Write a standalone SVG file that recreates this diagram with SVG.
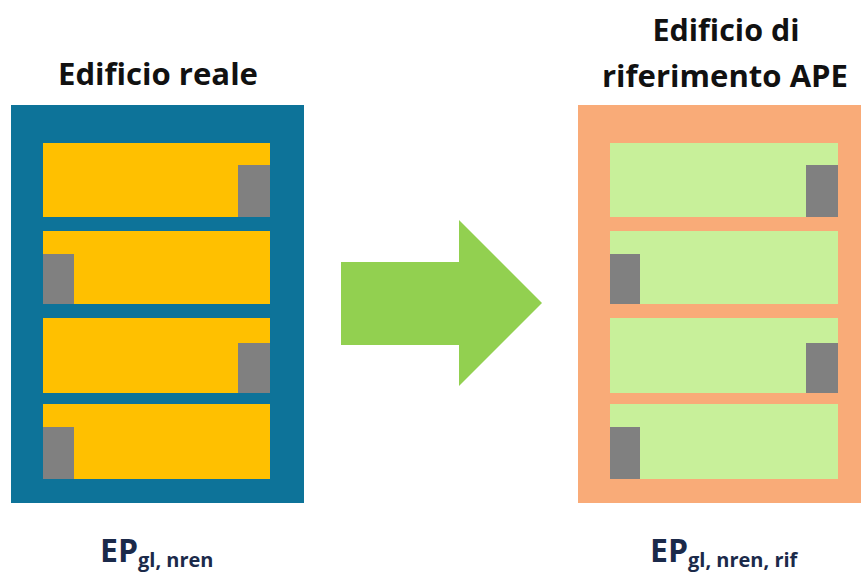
<svg xmlns="http://www.w3.org/2000/svg" width="861" height="575" viewBox="0 0 861 575">
<style>
.t{font-family:"Open Sans","Liberation Sans",sans-serif;font-weight:bold;fill:#111;font-size:31px}
.ep{font-family:"Open Sans","Liberation Sans",sans-serif;font-weight:bold;fill:#1b2a4a}
.blue{fill:#0d7399}.yel{fill:#ffc000}.gray{fill:#808080}.ora{fill:#f9ab78}.grn{fill:#c8f09a}
</style>
<rect width="861" height="575" fill="#fff"/>
<g id="real">
<text class="t" x="158" y="85" text-anchor="middle" textLength="200" lengthAdjust="spacingAndGlyphs">Edificio reale</text>
<rect class="blue" x="11" y="105" width="293" height="398"/>
<rect class="yel" x="43" y="143" width="227" height="74"/>
<rect class="gray" x="238" y="165" width="32" height="52"/>
<rect class="yel" x="43" y="231" width="227" height="73"/>
<rect class="gray" x="43" y="254" width="31" height="50"/>
<rect class="yel" x="43" y="318" width="227" height="75"/>
<rect class="gray" x="238" y="343" width="32" height="50"/>
<rect class="yel" x="43" y="404" width="227" height="75"/>
<rect class="gray" x="43" y="427" width="31" height="52"/>
<text class="ep" x="100" y="562" font-size="32">EP<tspan font-size="20" dy="5">gl, nren</tspan></text>
</g>
<g id="ref">
<text class="t" x="726" y="41" text-anchor="middle" textLength="147" lengthAdjust="spacingAndGlyphs">Edificio di</text>
<text class="t" x="725" y="87" text-anchor="middle" textLength="246" lengthAdjust="spacingAndGlyphs">riferimento APE</text>
<rect class="ora" x="578" y="105" width="283" height="398"/>
<rect class="grn" x="610" y="143" width="228" height="74"/>
<rect class="gray" x="806" y="165" width="32" height="52"/>
<rect class="grn" x="610" y="231" width="228" height="73"/>
<rect class="gray" x="610" y="254" width="30" height="50"/>
<rect class="grn" x="610" y="318" width="228" height="75"/>
<rect class="gray" x="806" y="343" width="32" height="50"/>
<rect class="grn" x="610" y="404" width="228" height="75"/>
<rect class="gray" x="610" y="427" width="30" height="52"/>
<text class="ep" x="650" y="562" font-size="32">EP<tspan font-size="20" dy="5">gl, nren, rif</tspan></text>
</g>
<g id="connectors">
<polygon points="341,262 459,262 459,220 542,303 459,386 459,345 341,345" fill="#92d050"/>
</g>
</svg>
